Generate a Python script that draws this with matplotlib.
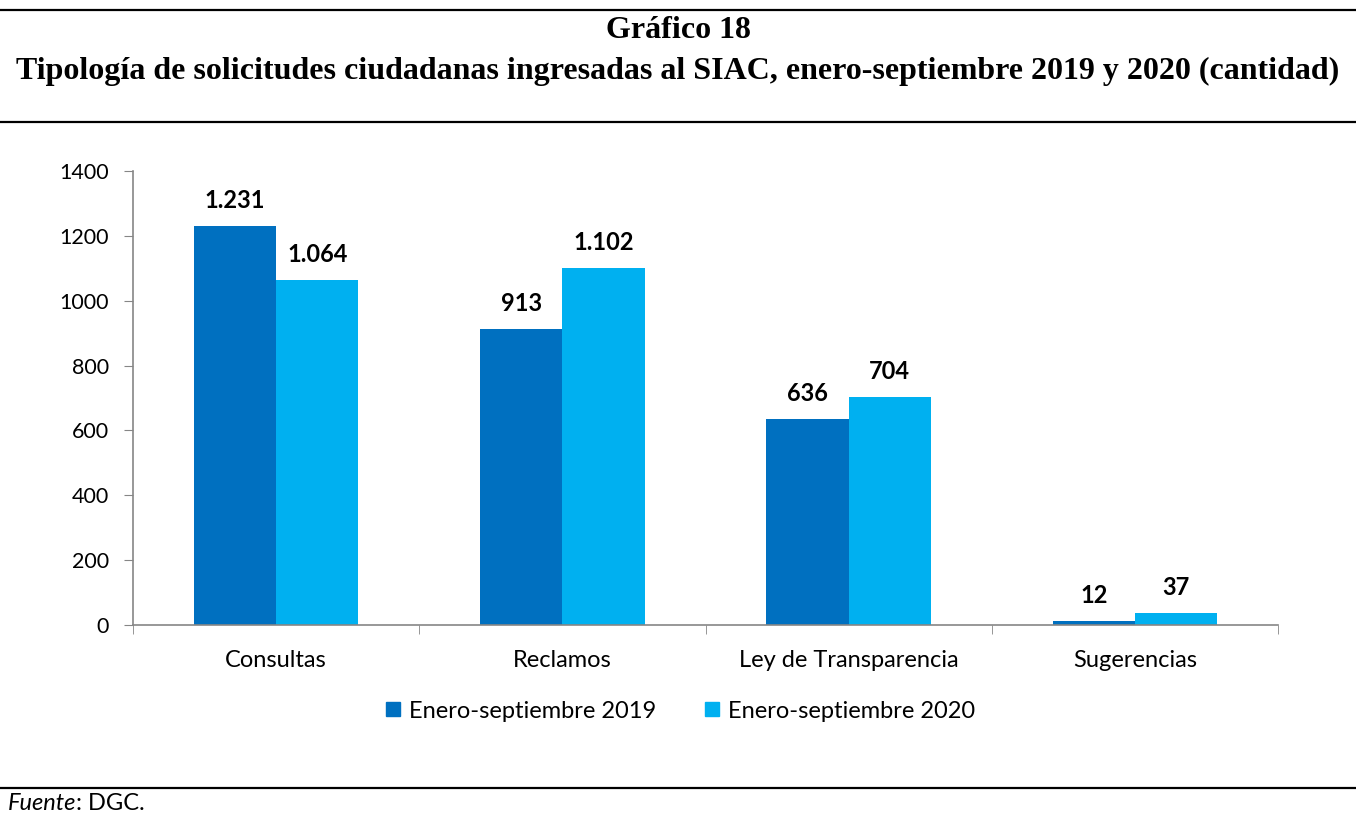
import matplotlib.pyplot as plt
import numpy as np
from matplotlib.lines import Line2D

categorias = ['Consultas', 'Reclamos', 'Ley de Transparencia', 'Sugerencias']
valores_2019 = [1231, 913, 636, 12]
valores_2020 = [1064, 1102, 704, 37]
etiquetas_2019 = ['1.231', '913', '636', '12']
etiquetas_2020 = ['1.064', '1.102', '704', '37']
series = ['Enero-septiembre 2019', 'Enero-septiembre 2020']
colores = ['#0070C0', '#00B0F0']

plt.rcParams['font.family'] = ['Lato', 'DejaVu Sans']

fig = plt.figure(figsize=(13.56, 8.14), dpi=100)
ax = fig.add_axes([133 / 1356, 1 - 625 / 814, (1278 - 133) / 1356, (625 - 171) / 814])

x = np.arange(len(categorias))
w = 0.287
b1 = ax.bar(x - w / 2, valores_2019, w, color=colores[0], label=series[0])
b2 = ax.bar(x + w / 2, valores_2020, w, color=colores[1], label=series[1])

# etiquetas sobre las barras
for bars, labs in [(b1, etiquetas_2019), (b2, etiquetas_2020)]:
    for rect, lab in zip(bars, labs):
        ax.annotate(lab, (rect.get_x() + rect.get_width() / 2, rect.get_height()),
                    xytext=(0, 10), textcoords='offset points', ha='center', va='bottom',
                    fontsize=17, fontweight='bold')

ax.set_xlim(-0.5, len(categorias) - 0.5)
ax.set_ylim(0, 1400)
ax.set_yticks(range(0, 1401, 200))
ax.set_xticks(x)
ax.set_xticklabels(categorias, fontsize=17)
ax.set_xticks(np.arange(-0.5, len(categorias), 1), minor=True)
ax.tick_params(axis='x', which='major', length=0, pad=18)
ax.tick_params(axis='x', which='minor', length=6.5, color='#868686', direction='out')
ax.tick_params(axis='y', length=6.5, color='#868686', labelsize=15.5, pad=11)
for s in ['top', 'right']:
    ax.spines[s].set_visible(False)
for s in ['left', 'bottom']:
    ax.spines[s].set_color('#868686')
    ax.spines[s].set_linewidth(1.2)

handles = [Line2D([], [], marker='s', linestyle='', markersize=10, color=c) for c in colores]
fig.legend(handles, series, loc='center', bbox_to_anchor=(680 / 1356, 1 - 711 / 814),
           ncol=2, frameon=False, fontsize=17, handletextpad=0.35, columnspacing=2.0,
           handlelength=0.7)

# títulos y líneas del recuadro
fig.text(0.5, 1 - 31 / 814, 'Gráfico 18', ha='center', va='center',
         family='Liberation Serif', fontweight='bold', fontsize=23)
fig.text(0.5, 1 - 71 / 814,
         'Tipología de solicitudes ciudadanas ingresadas al SIAC, enero-septiembre 2019 y 2020 (cantidad)',
         ha='center', va='center', family='Liberation Serif', fontweight='bold', fontsize=23)
for yy in [10, 122, 788]:
    fig.add_artist(Line2D([0, 1], [1 - yy / 814] * 2, color='black', linewidth=1.6))

t = fig.text(8 / 1356, 1 - 804 / 814, 'Fuente', style='italic', fontsize=17, va='center')
fig.canvas.draw()
bb = t.get_window_extent()
fig.text(bb.x1 / 1356, 1 - 804 / 814, ': DGC.', fontsize=17, va='center')

fig.savefig('out.png', dpi=100)
